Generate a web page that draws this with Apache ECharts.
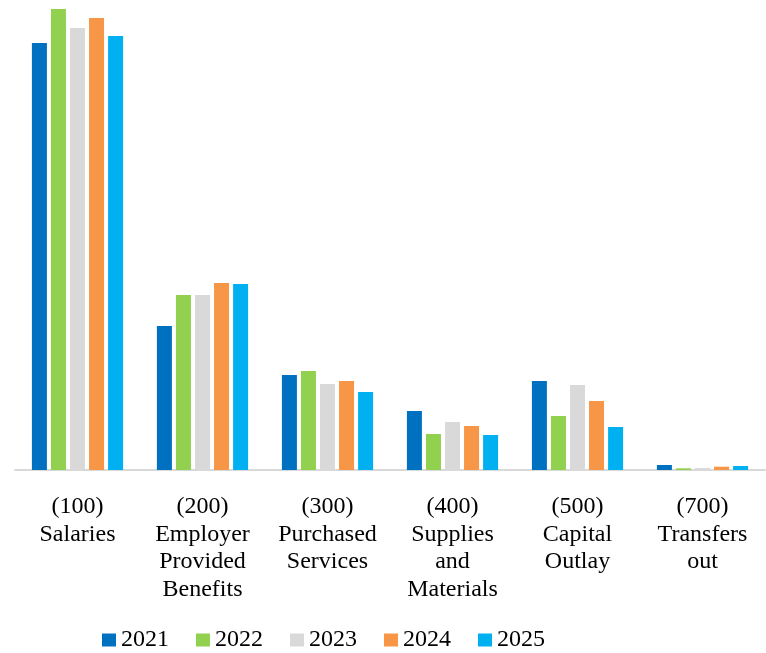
<!DOCTYPE html>
<html>
<head>
<meta charset="utf-8">
<script src="https://cdn.jsdelivr.net/npm/echarts@6/dist/echarts.min.js"></script>
<style>
  html, body { margin: 0; padding: 0; background: #ffffff; }
  #chart { width: 766px; height: 653px; }
</style>
</head>
<body>
<div id="chart"></div>
<script>
// Expenditure categories by object code
const categories = [
  '(100)\nSalaries',
  '(200)\nEmployer\nProvided\nBenefits',
  '(300)\nPurchased\nServices',
  '(400)\nSupplies\nand\nMaterials',
  '(500)\nCapital\nOutlay',
  '(700)\nTransfers\nout'
];

const years = ['2021', '2022', '2023', '2024', '2025'];

// Values per year, one entry per category
const values2021 = [427, 144, 95, 59, 89, 5];
const values2022 = [461, 175, 99, 36, 54, 1.7];
const values2023 = [442, 175, 86, 48, 85, 2];
const values2024 = [452, 187, 89, 44, 69, 3.3];
const values2025 = [434, 186, 78, 35, 43, 4];

const yearValues = [values2021, values2022, values2023, values2024, values2025];
const yearColors = ['#0070C0', '#92D050', '#D9D9D9', '#F79646', '#00B0F0'];

const textFont = '"Liberation Serif", "DejaVu Serif", serif';

const chart = echarts.init(document.getElementById('chart'), null, { renderer: 'canvas' });

chart.setOption({
  animation: false,
  backgroundColor: '#ffffff',
  grid: { left: 15, right: 1, top: 0, bottom: 183, containLabel: false },
  legend: {
    data: years,
    left: 97,
    top: 623,
    padding: 5,
    icon: 'rect',
    itemWidth: 14,
    itemHeight: 13,
    itemGap: 27,
    textStyle: { fontFamily: textFont, fontSize: 24, color: '#000000' }
  },
  xAxis: {
    type: 'category',
    data: categories,
    axisLine: { show: true, lineStyle: { color: '#D9D9D9', width: 2 } },
    axisTick: { show: false },
    axisLabel: {
      interval: 0,
      margin: 23,
      fontFamily: textFont,
      fontSize: 24,
      lineHeight: 27.5,
      color: '#000000',
      align: 'center',
      verticalAlign: 'top'
    }
  },
  yAxis: {
    type: 'value',
    min: 0,
    max: 470,
    show: false,
    splitLine: { show: false }
  },
  series: years.map((y, i) => ({
    name: y,
    type: 'bar',
    data: yearValues[i],
    barWidth: 15,
    barGap: '27%',
    itemStyle: { color: yearColors[i] }
  }))
});
</script>
</body>
</html>
